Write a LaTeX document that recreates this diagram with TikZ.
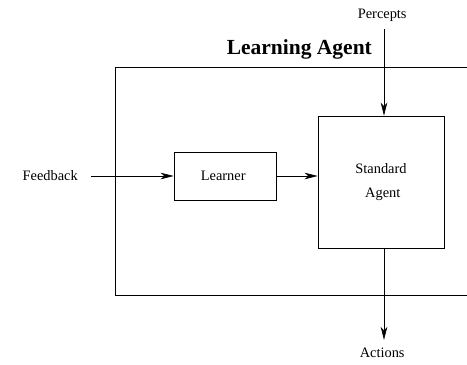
\documentclass[tikz,border=0pt]{standalone}
\usepackage{fontspec}
\setmainfont{Liberation Serif}
\usepackage{tikz}
\usetikzlibrary{positioning, arrows.meta}

\begin{document}
\begin{tikzpicture}[x = 1pt, y = -1pt,
    every node/.style = { align = center, font = \fontsize{14.4}{17}\selectfont },
    box/.style = { draw, line width = .6pt },
    link/.style = { line width = .6pt, -{Stealth[length = 13pt, width = 6.5pt, inset = 3.5pt]} }]
      \useasboundingbox (0,0) rectangle (467,365);
      % outer frame, cut off at the right
      \coordinate (tr) at (467,67);
      \coordinate (br) at (467,295);
      \draw [line width = .6pt] (tr) -- (115,67) -- (115,295) -- (br);
      \node (title) at (302,49) { \fontsize{21.5}{24}\selectfont\bfseries Learning Agent };

      \node [box, minimum width = 126pt, minimum height = 132pt] (agent) at (381,182)
        { Standard \\[7pt] \ Agent };
      \node [box, minimum width = 102pt, minimum height = 48pt] (learner) at (225,176) { Learner };
      \node [inner sep = 9pt] (feedback) at (52,176) { Feedback };
      \node [inner sep = 8pt] (percepts) at (384,15) { Percepts };
      \node [inner sep = 8pt] (actions) at (384,353) { Actions };

      \draw [link] (feedback.east) -- (feedback.east -| learner.west);
      \draw [link] (learner.east) -- (learner.east -| agent.west);
      \draw [link] (percepts) -- (percepts |- agent.north);
      \draw [link] (actions |- agent.south) -- (actions);
    \end{tikzpicture}
\end{document}
